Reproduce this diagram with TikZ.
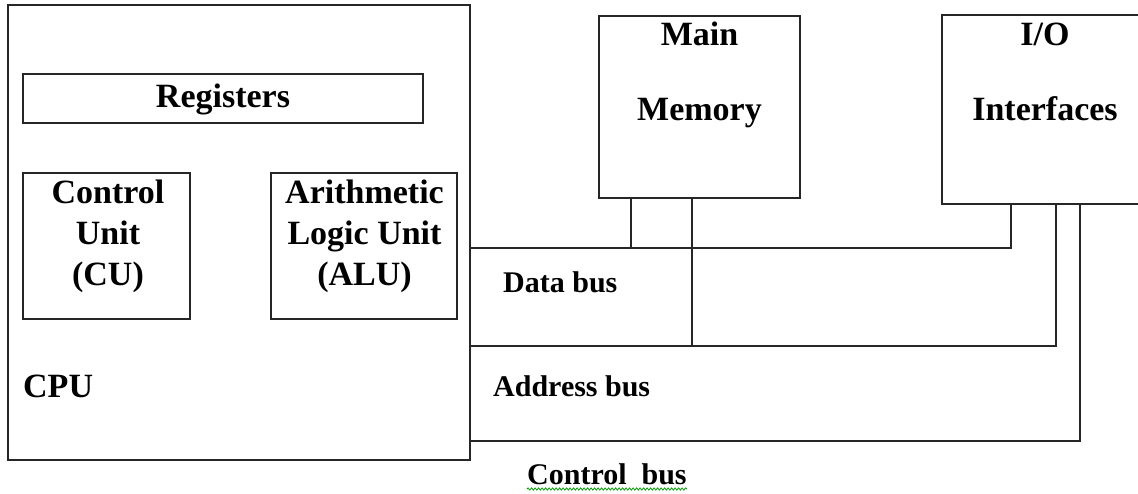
\documentclass[tikz,border=0pt]{standalone}
\usepackage{fontspec}
\setmainfont{Liberation Serif}
\usetikzlibrary{decorations.pathmorphing}
\tikzset{
  boxline/.style={draw=black!85, line width=1.6pt},
  blk/.style={boxline, fill=none, inner sep=0pt, minimum width=#1},
  bus/.style={draw=black!85, line width=1.6pt},
  big/.style={inner sep=0pt, anchor=base, font=\fontsize{34}{40}\selectfont\bfseries},
  small/.style={inner sep=0pt, anchor=base west, font=\fontsize{30}{36}\selectfont\bfseries},
}
\begin{document}
\begin{tikzpicture}[x=1pt,y=-1pt]
\useasboundingbox (0,0) rectangle (1138,493);
% boxes (drawn as rectangles, named via nodes)
\node[boxline, inner sep=0pt, minimum width=462pt, minimum height=455pt] (cpu) at (239,232.5) {};
\node[boxline, inner sep=0pt, minimum width=400pt, minimum height=49pt] (reg) at (223,98.5) {};
\node[boxline, inner sep=0pt, minimum width=167pt, minimum height=146pt] (cu) at (106.5,246) {};
\node[boxline, inner sep=0pt, minimum width=186pt, minimum height=146pt] (alu) at (364,246) {};
\node[boxline, inner sep=0pt, minimum width=201pt, minimum height=182pt] (mem) at (699.5,107) {};
\node[boxline, inner sep=0pt, minimum width=212pt, minimum height=189pt] (io) at (1048,109.5) {};

% texts
\node[big] (tReg) at (223,107) {Registers};
\node[big] (tCU1) at (108,203) {Control};
\node[big] (tCU2) at (108,244) {Unit};
\node[big] (tCU3) at (108,285) {(CU)};
\node[big] (tALU1) at (364.5,203) {Arithmetic};
\node[big] (tALU2) at (364.5,244) {Logic Unit};
\node[big] (tALU3) at (364.5,285) {(ALU)};
\node[big, anchor=base west] (tCPU) at (23,397) {CPU};
\node[big] (tMem1) at (699.5,45) {Main};
\node[big] (tMem2) at (699.5,120) {Memory};
\node[big] (tIO1) at (1045,45) {I/O};
\node[big] (tIO2) at (1045,120) {Interfaces};
\node[small] (tData) at (503,292) {Data bus};
\node[small] (tAddr) at (493,396) {Address bus};
\node[small] (tCtrl) at (527,484) {Control\ \ bus};

% bus tap coordinates
\coordinate (dataL) at (470,248);
\coordinate (addrL) at (470,346);
\coordinate (ctrlL) at (470,441);
\coordinate (memD) at (631,0);
\coordinate (memA) at (692,0);
\coordinate (ioD) at (1011,0);
\coordinate (ioA) at (1056,0);
\coordinate (ioC) at (1080,0);

% buses
\draw[bus] (dataL) -- (dataL -| ioD) -- (io.south -| ioD);
\draw[bus] (addrL) -- (addrL -| ioA) -- (io.south -| ioA);
\draw[bus] (ctrlL) -- (ctrlL -| ioC) -- (io.south -| ioC);
\draw[bus] (mem.south -| memD) -- (dataL -| memD);
\draw[bus] (mem.south -| memA) -- (addrL -| memA);

% spell-check squiggle
\draw[green!60!black, line width=0.8pt, decorate, decoration={snake, segment length=3.5pt, amplitude=1.1pt}]
  ([yshift=-5pt]tCtrl.base west) -- ([yshift=-5pt]tCtrl.base east);
\end{tikzpicture}
\end{document}
